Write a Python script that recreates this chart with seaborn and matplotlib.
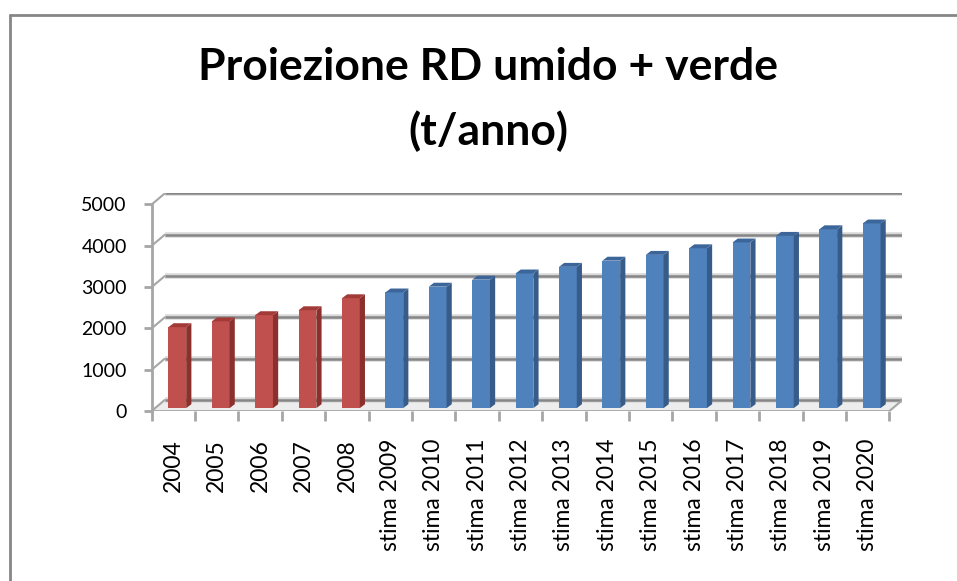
import matplotlib
matplotlib.use("Agg")
import matplotlib.pyplot as plt
from matplotlib.patches import Polygon
import seaborn as sns
import pandas as pd
import numpy as np

# data
categories = ['2004', '2005', '2006', '2007', '2008',
              'stima 2009', 'stima 2010', 'stima 2011', 'stima 2012',
              'stima 2013', 'stima 2014', 'stima 2015', 'stima 2016',
              'stima 2017', 'stima 2018', 'stima 2019', 'stima 2020']
values = [1960, 2100, 2250, 2370, 2660, 2800, 2940, 3110, 3260,
          3420, 3570, 3710, 3870, 4010, 4170, 4330, 4470]
kind = ['reale'] * 5 + ['stima'] * 12
y_ticks = [0, 1000, 2000, 3000, 4000, 5000]

data = pd.DataFrame({'Anno': categories, 'Valore': values, 'Tipo': kind})

front = {'reale': '#C0504D', 'stima': '#4F81BD'}
side = {'#c0504d': '#8C302D', '#4f81bd': '#375C89'}
top = {'#c0504d': '#A23B38', '#4f81bd': '#3C6699'}

sns.set_style('white')
plt.rcParams['font.family'] = ['Lato', 'DejaVu Sans']
plt.rcParams['text.color'] = 'black'
plt.rcParams['xtick.labelcolor'] = 'black'
plt.rcParams['ytick.labelcolor'] = 'black'

fig = plt.figure(figsize=(9.57, 5.81), dpi=100)
ax = fig.add_axes([0.1585, 0.2926, 0.7845, 0.3744])

sns.barplot(data=data, x='Anno', y='Valore', hue='Tipo', palette=front,
            dodge=False, width=0.41, legend=False, ax=ax, saturation=1,
            linewidth=0, edgecolor='none')

# 3D depth of the "wall" in data units
dx, dy = 0.30, 266
bdx, bdy = 0.12, 95

ax.set_xlim(-0.5, 16.5 + dx)
ax.set_ylim(0, 5000 + dy)

# give the bars a side and a top face
bars = [p for c in ax.containers for p in c]
for p in bars:
    h = p.get_height()
    if not np.isfinite(h) or h == 0:
        continue
    p.set_x(p.get_x() + 0.09)
    p.set_y(70)
    p.set_zorder(3)
    p.set_linewidth(0)
    x0, w, y0 = p.get_x(), p.get_width(), 70
    c = matplotlib.colors.to_hex(p.get_facecolor())
    ax.add_patch(Polygon([(x0 + w, y0), (x0 + w + bdx, y0 + bdy),
                          (x0 + w + bdx, y0 + h + bdy), (x0 + w, y0 + h)],
                         closed=True, color=side.get(c, c), lw=0, zorder=3))
    ax.add_patch(Polygon([(x0, y0 + h), (x0 + w, y0 + h),
                          (x0 + w + bdx, y0 + h + bdy), (x0 + bdx, y0 + h + bdy)],
                         closed=True, color=top.get(c, c), lw=0, zorder=3))

# back wall gridlines and slanted joins
for v in y_ticks:
    ax.plot([-0.5 + dx, 16.5 + dx], [v + dy, v + dy], color='#D9D9D9', lw=4, zorder=0.5,
            solid_capstyle='butt')
    ax.plot([-0.5 + dx, 16.5 + dx], [v + dy, v + dy], color='#868686', lw=1.8, zorder=0.6,
            solid_capstyle='butt')
    ax.plot([-0.5, -0.5 + dx], [v, v + dy], color='#A6A6A6', lw=1.5, zorder=0.6)
# floor
ax.fill([-0.5, 16.5, 16.5 + dx, -0.5 + dx], [0, 0, dy, dy], color='#EDEDED', zorder=0.4)
ax.plot([-0.5, 16.5], [0, 0], color='#A6A6A6', lw=2, zorder=0.6)
ax.plot([16.5, 16.5 + dx], [0, dy], color='#A6A6A6', lw=1.5, zorder=0.6)

for s in ['top', 'right', 'bottom']:
    ax.spines[s].set_visible(False)
ax.spines['left'].set_color('#A6A6A6')
ax.spines['left'].set_linewidth(2)
ax.spines['left'].set_bounds(0, 5000)

ax.set_yticks(y_ticks)
ax.set_yticklabels([str(v) for v in y_ticks], fontsize=14)
ax.tick_params(axis='y', length=6, width=2, color='#A6A6A6', pad=12, left=True,
               labelcolor='black')

ax.set_xticks(range(len(categories)))
ax.set_xticklabels(categories, rotation=90, fontsize=16.5)
ax.set_xticks(np.arange(-0.5, 17, 1), minor=True)
ax.tick_params(axis='x', which='major', length=0, pad=20, labelcolor='black')
ax.tick_params(axis='x', which='minor', length=7, width=2, color='#A6A6A6', bottom=True)
ax.set_xlabel('')
ax.set_ylabel('')

fig.text(0.51, 0.885, 'Proiezione RD umido + verde', ha='center', va='center',
         fontsize=32, fontweight='bold', color='black')
fig.text(0.51, 0.775, '(t/anno)', ha='center', va='center',
         fontsize=32, fontweight='bold', color='black')

# chart border (only top and left visible in the crop)
fig.add_artist(plt.Line2D([10 / 957, 1], [1 - 15 / 581, 1 - 15 / 581], color='#868686', lw=2))
fig.add_artist(plt.Line2D([10 / 957, 10 / 957], [0, 1 - 15 / 581], color='#868686', lw=2))

fig.savefig('out.png', dpi=100)
